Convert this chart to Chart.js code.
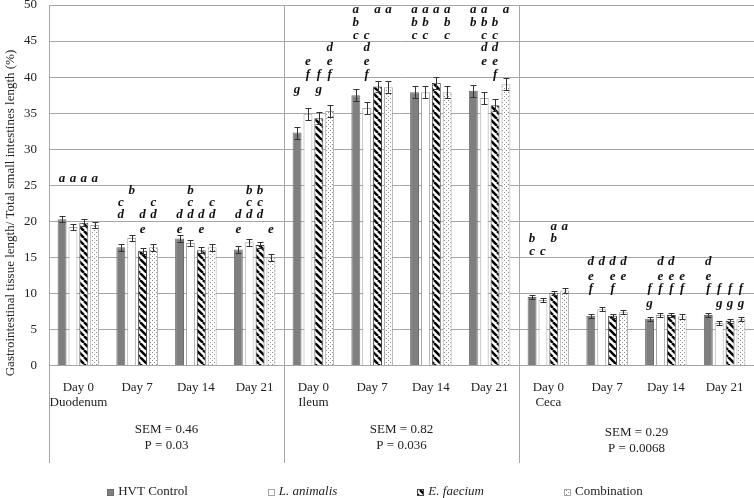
<!DOCTYPE html>
<html>
<head>
<meta charset="utf-8">
<script src="https://cdn.jsdelivr.net/npm/chart.js@4.4.0/dist/chart.umd.min.js"></script>
<style>
  html, body { margin: 0; padding: 0; background: #fff; }
  #wrap { width: 754px; height: 498px; }
</style>
</head>
<body>
<div id="wrap"><canvas id="gitChart"></canvas></div>
<script>
// segments / days / treatments
const SEGMENTS = ["Duodenum", "Ileum", "Ceca"];
const DAYS = ["Day 0", "Day 7", "Day 14", "Day 21"];
const SERIES = ["HVT Control", "L. animalis", "E. faecium", "Combination"];
const ITALIC = [false, true, true, false];

// % of total small intestine length, Duodenum D0-D21, Ileum D0-D21, Ceca D0-D21
const HVT_CONTROL = [20.3, 16.4, 17.6, 16.1, 32.3, 37.5, 37.9, 38.1, 9.5, 6.9, 6.5, 7.0];
const L_ANIMALIS  = [19.2, 17.7, 17.0, 17.1, 34.9, 35.7, 37.9, 37.1, 9.1, 7.8, 7.0, 5.9];
const E_FAECIUM   = [19.8, 15.9, 16.0, 16.7, 34.3, 38.7, 39.2, 36.1, 10.1, 6.9, 7.0, 6.2];
const COMBINATION = [19.5, 16.4, 16.4, 15.0, 35.3, 38.6, 37.9, 39.0, 10.4, 7.4, 6.8, 6.4];

// pooled SEM (error bars) and P per segment
const SEM = [0.46, 0.82, 0.29];
const P_VALUES = ["0.03", "0.036", "0.0068"];

// significance letters for each bar
const HVT_LETTERS = ["a", "cd", "de", "de", "g", "abc", "abc", "ab", "bc", "def", "fg", "def"];
const LAN_LETTERS = ["a", "b", "bcd", "bcd", "ef", "cdef", "abc", "abcde", "c", "d", "def", "fg"];
const EFA_LETTERS = ["a", "de", "de", "bcd", "fg", "a", "a", "bcdef", "ab", "def", "def", "fg"];
const COM_LETTERS = ["a", "cd", "cd", "e", "def", "a", "abc", "a", "a", "de", "ef", "fg"];

// value level of letter rows a, b, c, ... for each segment
const DUO_ROWS = [25.9, 24.2, 22.6, 20.9, 18.9];
const ILE_ROWS = [49.4, 47.6, 45.8, 44.1, 42.2, 40.3, 38.3];
const CEC_ROWS = [19.2, 17.6, 15.8, 14.4, 12.3, 10.7, 8.6];

const LETTERS = [HVT_LETTERS, LAN_LETTERS, EFA_LETTERS, COM_LETTERS];
const ROWS = [DUO_ROWS, ILE_ROWS, CEC_ROWS];

const SERIF = '"Liberation Serif", "Times New Roman", serif';

const labels = [];
SEGMENTS.forEach(seg => DAYS.forEach((d, k) => labels.push(k === 0 ? [d, seg] : d)));

//patterns for the striped and dotted bars
function makeHatch() {
    const c = document.createElement('canvas');
    c.width = 7; c.height = 7;
    const g = c.getContext('2d');
    g.fillStyle = '#fff'; g.fillRect(0, 0, 7, 7);
    g.strokeStyle = '#000'; g.lineWidth = 2.5;
    g.beginPath();
    for (let o = -7; o <= 7; o += 7) { g.moveTo(o, 0); g.lineTo(o + 7, 7); }
    g.stroke();
    return g.createPattern(c, 'repeat');
}
function makeDots() {
    const c = document.createElement('canvas');
    c.width = 4; c.height = 4;
    const g = c.getContext('2d');
    g.fillStyle = '#fff'; g.fillRect(0, 0, 4, 4);
    g.fillStyle = '#8a8a8a';
    g.fillRect(0, 0, 1, 1); g.fillRect(2, 2, 1, 1);
    return g.createPattern(c, 'repeat');
}
const HATCH = makeHatch();
const DOTS = makeDots();

const FILLS = ['#7f7f7f', '#ffffff', HATCH, DOTS];
const BORDERS = ['#6e6e6e', '#a6a6a6', '#444444', '#a6a6a6'];

const annotate = {
    id: 'annotate',
    afterDatasetsDraw(chart) {
        const ctx = chart.ctx, y = chart.scales.y;
        ctx.save();
        chart.data.datasets.forEach((ds, i) => {
            chart.getDatasetMeta(i).data.forEach((bar, j) => {
                const seg = Math.floor(j / 4);
                const v = ds.data[j];
                const top = Math.round(y.getPixelForValue(v + SEM[seg])) + 0.5;
                const bot = Math.round(y.getPixelForValue(v - SEM[seg])) + 0.5;
                const cx = Math.round(bar.x) + 0.5;
                ctx.strokeStyle = '#333'; ctx.lineWidth = 1;
                ctx.beginPath();
                ctx.moveTo(cx, top); ctx.lineTo(cx, bot);
                ctx.moveTo(cx - 3, top); ctx.lineTo(cx + 3, top);
                ctx.moveTo(cx - 3, bot); ctx.lineTo(cx + 3, bot);
                ctx.stroke();
                //letters
                ctx.font = 'bold italic 13px ' + SERIF;
                ctx.fillStyle = '#111';
                ctx.textAlign = 'center';
                ctx.textBaseline = 'middle';
                for (const ch of LETTERS[i][j]) {
                    const lv = ROWS[seg][ch.charCodeAt(0) - 97];
                    ctx.fillText(ch, bar.x, y.getPixelForValue(lv));
                }
            });
        });
        ctx.restore();
    },
    afterDraw(chart) {
        const ctx = chart.ctx, x = chart.scales.x, area = chart.chartArea;
        ctx.save();
        // segment dividers
        const edges = [area.left,
            (x.getPixelForValue(3) + x.getPixelForValue(4)) / 2,
            (x.getPixelForValue(7) + x.getPixelForValue(8)) / 2];
        ctx.strokeStyle = '#a6a6a6'; ctx.lineWidth = 1;
        ctx.beginPath();
        edges.forEach(e => {
            const px = Math.round(e) + 0.5;
            ctx.moveTo(px, area.top); ctx.lineTo(px, x.bottom);
        });
        ctx.stroke();

        // SEM / P
        ctx.font = '13px ' + SERIF;
        ctx.fillStyle = '#222';
        ctx.textAlign = 'center';
        ctx.textBaseline = 'middle';
        SEGMENTS.forEach((s, k) => {
            const cx = (x.getPixelForValue(k * 4) + x.getPixelForValue(k * 4 + 3)) / 2;
            const dy = k === 2 ? 3 : 0;
            ctx.fillText('SEM = ' + SEM[k], cx, x.bottom - 33 + dy);
            ctx.fillText('P = ' + P_VALUES[k], cx, x.bottom - 17 + dy);
        });

        // y title
        ctx.save();
        ctx.translate(11, 213);
        ctx.rotate(-Math.PI / 2);
        ctx.fillText('Gastrointestinal tissue length/ Total small intestines length (%)', 0, 0);
        ctx.restore();

        // legend
        const gap = 80, box = 7, ly = chart.height - 6;
        const widths = SERIES.map((s, k) => {
            ctx.font = (ITALIC[k] ? 'italic ' : '') + '13px ' + SERIF;
            return box + 4 + ctx.measureText(s).width;
        });
        const total = widths.reduce((a, b) => a + b, 0) + gap * (SERIES.length - 1);
        let lx = (chart.width - total) / 2 - 2;
        ctx.textAlign = 'left';
        SERIES.forEach((s, k) => {
            ctx.fillStyle = FILLS[k];
            ctx.fillRect(Math.round(lx), Math.round(ly - box / 2), box, box);
            ctx.strokeStyle = BORDERS[k];
            ctx.strokeRect(Math.round(lx) + 0.5, Math.round(ly - box / 2) + 0.5, box - 1, box - 1);
            ctx.font = (ITALIC[k] ? 'italic ' : '') + '13px ' + SERIF;
            ctx.fillStyle = '#222';
            ctx.fillText(s, lx + box + 4, ly);
            lx += widths[k] + gap;
        });
        ctx.restore();
    }
};

const seriesData = [HVT_CONTROL, L_ANIMALIS, E_FAECIUM, COMBINATION];

new Chart(document.getElementById('gitChart'), {
    type: 'bar',
    data: {
        labels: labels,
        datasets: SERIES.map((s, k) => ({
            label: s,
            data: seriesData[k],
            backgroundColor: FILLS[k],
            borderColor: BORDERS[k],
            borderWidth: 1,
            categoryPercentage: 0.74,
            barPercentage: 0.82
        }))
    },
    options: {
        responsive: true,
        maintainAspectRatio: false,
        animation: false,
        layout: { padding: { top: 5, right: 0, bottom: 35, left: 0 } },
        plugins: { legend: { display: false }, tooltip: { enabled: false } },
        scales: {
            x: {
                grid: { display: false },
                border: { display: false },
                ticks: {
                    color: '#222',
                    font: { family: SERIF, size: 13 },
                    padding: 6,
                    maxRotation: 0,
                    autoSkip: false
                },
                afterFit: s => { s.height = 97.5; s.paddingLeft = 0; s.paddingRight = 0; }
            },
            y: {
                min: 0,
                max: 50,
                grid: { color: '#a6a6a6', drawTicks: false },
                border: { display: false },
                ticks: {
                    stepSize: 5,
                    color: '#222',
                    font: { family: SERIF, size: 13 },
                    padding: 12
                },
                afterFit: s => { s.width = 49; s.paddingTop = 0; s.paddingBottom = 0; }
            }
        }
    },
    plugins: [annotate]
});
</script>
</body>
</html>
